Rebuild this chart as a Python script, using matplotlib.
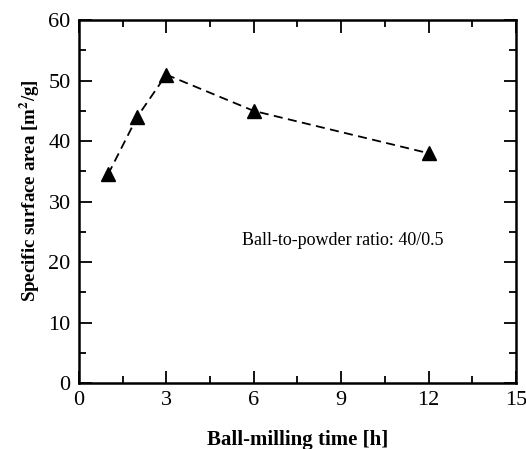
import matplotlib
matplotlib.use("Agg")
import matplotlib.pyplot as plt
from matplotlib.ticker import MultipleLocator

# data
milling_time = [1, 2, 3, 6, 12]           # h
surface_area = [34.5, 44.0, 51.0, 45.0, 38.0]  # m2/g
x_ticks = [0, 3, 6, 9, 12, 15]
y_ticks = [0, 10, 20, 30, 40, 50, 60]

plt.rcParams['font.family'] = ['Liberation Serif', 'DejaVu Serif']
plt.rcParams['mathtext.fontset'] = 'stix'

fig = plt.figure(figsize=(5.26, 4.49), dpi=100)
ax = fig.add_axes([0.150, 0.147, 0.831, 0.808])

ax.plot(milling_time, surface_area, color='black', linestyle=(0, (5, 3)),
        linewidth=1.3, marker='^', markersize=10, markerfacecolor='black')

ax.text(5.6, 23.6, 'Ball-to-powder ratio: 40/0.5', fontsize=13, va='center')

ax.set_xlim(0, 15)
ax.set_ylim(0, 60)
ax.set_xticks(x_ticks)
ax.set_yticks(y_ticks)
ax.xaxis.set_minor_locator(MultipleLocator(1.5))
ax.yaxis.set_minor_locator(MultipleLocator(5))
ax.tick_params(which='both', direction='in', top=True, right=True,
               labelsize=16, width=1.3)
ax.tick_params(which='major', length=9, pad=6)
ax.tick_params(which='minor', length=5)
for s in ax.spines.values():
    s.set_linewidth(1.8)

ax.set_xlabel('Ball-milling time [h]', fontsize=15, fontweight='bold')
ax.xaxis.set_label_coords(0.5, -0.13)
ax.set_ylabel(r'Specific surface area [m$^{\mathbf{2}}$/g]', fontsize=13.6,
              fontweight='bold')
ax.yaxis.set_label_coords(-0.085, 0.53)

fig.savefig('out.png', dpi=100)
